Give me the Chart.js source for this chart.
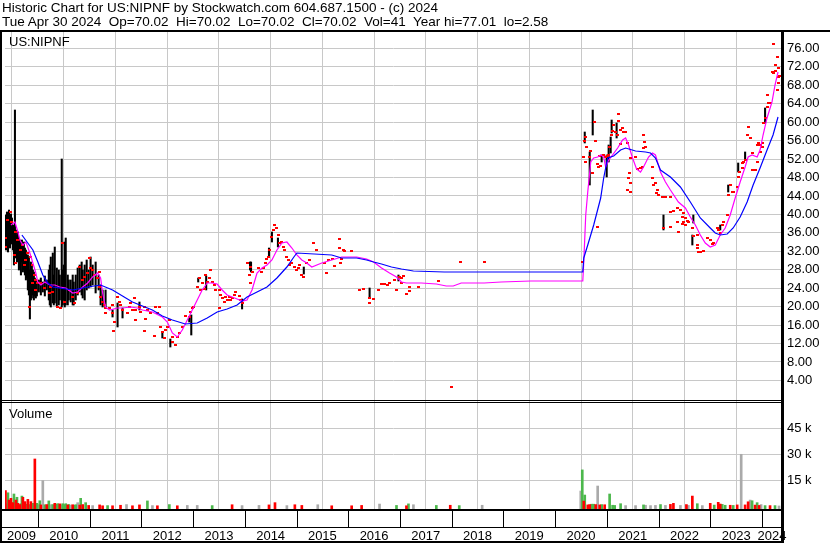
<!DOCTYPE html>
<html>
<head>
<meta charset="utf-8">
<script src="https://cdn.jsdelivr.net/npm/chart.js@4"></script>
<style>
  body { margin: 0; background: #fff; }
  #wrap { position: relative; width: 830px; height: 543px; overflow: hidden; font-family: "Liberation Sans", Arial, sans-serif; }
  #chart { position: absolute; left: 0; top: 0; }
  .txt { position: absolute; font-size: 13px; line-height: 14px; color: #000; white-space: pre; }
  .head { font-size: 13.5px; }
</style>
</head>
<body>
<div id="wrap">
  <canvas id="chart" width="830" height="543"></canvas>
  <div class="txt head" style="left:2px;top:1px">Historic Chart for US:NIPNF by Stockwatch.com 604.687.1500 - (c) 2024</div>
  <div class="txt head" style="left:2px;top:15px">Tue Apr 30 2024  Op=70.02  Hi=70.02  Lo=70.02  Cl=70.02  Vol=41  Year hi=77.01  lo=2.58</div>
  <div class="txt" style="left:9px;top:35px">US:NIPNF</div>
  <div class="txt" style="left:9px;top:407px">Volume</div>
</div>
<script>
// tick labels
const yearTicks = [2010, 2011, 2012, 2013, 2014, 2015, 2016, 2017, 2018, 2019, 2020, 2021, 2022, 2023, 2024];
const yearLabels = [2009, 2010, 2011, 2012, 2013, 2014, 2015, 2016, 2017, 2018, 2019, 2020, 2021, 2022, 2023, 2024];
const priceTicks = [4, 8, 12, 16, 20, 24, 28, 32, 36, 40, 44, 48, 52, 56, 60, 64, 68, 72, 76];
const volumeTicks = [15000, 30000, 45000];

// moving averages [year, price]
const longAverage = [
  [2009.692,35.53],[2009.904,32.28],[2010.000,29.68],[2010.096,26.86],[2010.193,25.13],[2010.289,24.26],
  [2010.674,23.61],[2010.963,24.26],[2011.213,24.69],[2011.444,23.61],[2011.829,21.01],[2012.214,19.27],
  [2012.407,17.97],[2012.600,17.10],[2012.850,16.24],[2013.081,16.45],[2013.274,17.54],[2013.466,18.84],
  [2013.659,19.49],[2013.852,20.36],[2014.044,22.09],[2014.237,23.17],[2014.429,24.26],[2014.622,26.21],
  [2014.814,28.59],[2014.949,30.76],[2015.007,31.63],[2015.681,31.20],[2015.873,30.55],[2016.162,30.55],
  [2016.355,30.11],[2016.490,29.68],[2016.643,29.24],[2016.836,28.59],[2017.029,28.16],[2017.260,27.73],
  [2017.857,27.51],[2020.534,27.51],[2020.553,30.55],[2020.630,33.36],[2020.745,37.70],[2020.880,43.55],
  [2020.938,47.89],[2021.015,52.23],[2021.131,52.66],[2021.265,53.96],[2021.362,54.39],[2021.554,53.74],
  [2021.747,53.53],[2021.843,53.31],[2021.939,52.23],[2022.036,49.62],[2022.228,48.11],[2022.421,45.94],
  [2022.613,42.69],[2022.806,39.22],[2022.998,37.05],[2023.095,35.97],[2023.191,35.53],[2023.326,35.75],
  [2023.441,37.05],[2023.576,39.43],[2023.711,42.69],[2023.827,46.37],[2023.961,50.06],[2024.096,53.96],
  [2024.212,57.21],[2024.308,61.11]
];
const shortAverage = [
  [2009.480,37.70],[2009.557,38.35],[2009.615,36.18],[2009.653,34.45],[2009.711,33.36],[2009.769,34.01],
  [2009.846,31.63],[2009.904,29.46],[2009.961,27.29],[2010.000,25.34],[2010.058,24.69],[2010.135,25.34],
  [2010.231,24.69],[2010.327,24.69],[2010.424,24.26],[2010.539,24.04],[2010.674,22.96],[2010.770,23.17],
  [2010.867,24.26],[2010.963,25.13],[2011.059,26.43],[2011.155,27.29],[2011.213,26.21],[2011.252,22.96],
  [2011.309,19.92],[2011.386,19.27],[2011.541,19.71],[2011.637,19.71],[2011.791,19.92],[2011.926,19.71],
  [2012.022,19.27],[2012.215,18.84],[2012.407,17.75],[2012.503,16.67],[2012.600,14.29],[2012.696,13.42],
  [2012.792,14.94],[2012.889,17.10],[2012.985,19.27],[2013.081,21.44],[2013.177,23.61],[2013.274,25.13],
  [2013.370,25.13],[2013.466,24.91],[2013.563,23.61],[2013.659,22.52],[2013.755,22.09],[2013.851,21.66],
  [2013.948,21.22],[2014.044,21.44],[2014.140,23.61],[2014.237,27.29],[2014.333,28.38],[2014.429,29.03],
  [2014.525,30.11],[2014.622,32.28],[2014.718,33.80],[2014.814,34.01],[2014.911,32.71],[2015.007,31.20],
  [2015.103,30.11],[2015.199,29.46],[2015.296,28.59],[2015.488,29.46],[2015.873,30.76],[2016.162,30.76],
  [2016.355,30.33],[2016.490,29.68],[2016.644,28.38],[2016.798,27.29],[2016.933,26.43],[2017.029,25.34],
  [2017.125,25.13],[2017.414,25.13],[2017.703,24.91],[2017.895,24.48],[2018.030,24.48],[2018.184,25.13],
  [2018.627,25.13],[2018.955,25.34],[2019.532,25.56],[2020.534,25.56],[2020.553,29.68],[2020.591,39.87],
  [2020.630,44.85],[2020.688,51.36],[2020.745,52.23],[2020.822,52.44],[2020.880,52.88],[2020.938,52.44],
  [2020.976,50.27],[2021.034,51.79],[2021.111,52.88],[2021.208,54.39],[2021.304,56.13],[2021.362,56.56],
  [2021.419,55.04],[2021.496,52.23],[2021.573,49.84],[2021.650,49.19],[2021.708,50.27],[2021.805,52.44],
  [2021.882,53.31],[2021.939,52.88],[2022.036,49.19],[2022.132,47.02],[2022.228,45.29],[2022.382,42.69],
  [2022.517,41.39],[2022.613,39.43],[2022.710,37.70],[2022.806,35.53],[2022.902,33.80],[2022.998,32.93],
  [2023.095,33.36],[2023.191,35.53],[2023.287,37.05],[2023.384,39.87],[2023.480,43.55],[2023.576,47.02],
  [2023.672,50.27],[2023.730,52.44],[2023.807,52.88],[2023.904,52.44],[2023.961,53.96],[2024.019,57.21],
  [2024.096,60.90],[2024.192,64.37],[2024.250,68.05],[2024.308,70.87]
];

// daily closes [year, price]
const closes = [
  [2009.365,32.93],[2009.384,34.88],[2009.422,38.78],[2009.480,40.52],[2009.499,38.35],[2009.557,31.20],
  [2009.576,36.18],[2009.576,29.46],[2009.615,34.45],[2009.673,32.28],[2009.711,33.36],[2009.750,29.03],
  [2009.769,30.11],[2009.807,31.63],[2009.846,19.92],[2009.865,30.76],[2009.904,29.03],[2009.904,25.13],
  [2009.942,26.86],[2009.961,25.78],[2009.961,23.61],[2010.000,25.13],[2010.058,25.13],[2010.135,24.04],
  [2010.231,22.96],[2010.250,24.26],[2010.289,23.17],[2010.385,19.92],[2010.443,19.71],[2010.481,33.80],
  [2010.520,21.01],[2010.616,23.61],[2010.674,22.09],[2010.713,20.79],[2010.770,22.96],[2010.809,28.59],
  [2010.867,25.78],[2010.905,26.43],[2010.963,27.29],[2011.001,30.55],[2011.020,28.38],[2011.059,27.94],
  [2011.098,26.86],[2011.155,26.21],[2011.194,27.51],[2011.194,24.26],[2011.213,22.09],[2011.252,21.01],
  [2011.290,20.36],[2011.309,19.71],[2011.309,18.62],[2011.386,19.71],[2011.444,20.36],[2011.444,18.62],
  [2011.463,14.72],[2011.483,16.67],[2011.541,22.09],[2011.579,21.01],[2011.598,20.36],[2011.637,19.27],
  [2011.733,18.62],[2011.772,19.92],[2011.791,20.79],[2011.829,19.27],[2011.868,21.87],[2011.887,19.27],
  [2011.887,17.10],[2011.964,19.92],[2011.983,18.84],[2012.060,19.92],[2012.060,14.72],[2012.080,17.32],
  [2012.118,19.27],[2012.176,18.62],[2012.253,13.64],[2012.272,19.92],[2012.311,18.62],[2012.349,19.92],
  [2012.369,15.59],[2012.407,14.50],[2012.446,13.20],[2012.465,14.94],[2012.503,15.59],[2012.542,17.10],
  [2012.600,12.33],[2012.600,13.42],[2012.657,11.68],[2012.696,13.42],[2012.735,14.29],[2012.792,15.59],
  [2012.850,17.97],[2012.927,17.75],[2012.946,18.84],[2012.985,19.71],[2013.004,19.92],[2013.081,24.26],
  [2013.120,26.21],[2013.139,23.61],[2013.177,25.13],[2013.216,23.82],[2013.235,26.86],[2013.274,25.34],
  [2013.312,26.21],[2013.331,27.94],[2013.370,25.34],[2013.408,24.69],[2013.428,23.61],[2013.505,23.61],
  [2013.505,19.71],[2013.524,22.52],[2013.563,21.87],[2013.601,21.01],[2013.620,22.09],[2013.659,21.44],
  [2013.697,22.09],[2013.716,21.44],[2013.755,21.87],[2013.794,22.52],[2013.813,23.17],[2013.890,22.31],
  [2013.909,21.44],[2013.948,20.79],[2014.044,29.46],[2014.082,26.86],[2014.102,28.59],[2014.102,25.13],
  [2014.140,27.51],[2014.275,28.38],[2014.333,27.51],[2014.371,28.38],[2014.391,29.46],[2014.429,30.33],
  [2014.468,30.76],[2014.487,32.28],[2014.525,35.10],[2014.564,36.62],[2014.583,37.70],[2014.622,37.05],
  [2014.660,35.53],[2014.679,33.80],[2014.718,34.01],[2014.756,32.93],[2014.775,32.28],[2014.814,30.76],
  [2014.853,30.11],[2014.872,29.03],[2014.911,29.46],[2014.968,28.59],[2015.007,27.94],[2015.045,28.38],
  [2015.065,29.03],[2015.103,26.86],[2015.141,26.43],[2015.199,29.46],[2015.257,30.11],[2015.334,33.80],
  [2015.392,32.28],[2015.546,29.46],[2015.585,27.29],[2015.623,30.11],[2015.700,30.33],[2015.739,28.81],
  [2015.835,34.66],[2015.835,32.71],[2015.854,29.46],[2015.873,30.33],[2015.912,32.28],[2015.931,32.06],
  [2016.066,32.06],[2016.220,23.61],[2016.297,23.82],[2016.413,21.87],[2016.413,20.79],[2016.490,21.66],
  [2016.586,23.61],[2016.644,24.91],[2016.702,24.91],[2016.759,24.69],[2016.798,25.13],[2016.894,25.78],
  [2016.933,23.61],[2016.990,26.43],[2017.029,26.21],[2017.029,25.13],[2017.067,26.64],[2017.125,22.74],
  [2017.183,24.26],[2017.183,23.39],[2017.356,24.26],[2017.741,25.56],[2017.991,2.58],[2018.165,29.68],
  [2018.627,29.68],[2020.534,29.68],[2020.553,52.44],[2020.572,55.91],[2020.591,51.36],[2020.591,56.78],
  [2020.611,54.61],[2020.668,52.44],[2020.688,53.74],[2020.726,48.97],[2020.765,60.03],[2020.784,55.91],
  [2020.822,50.92],[2020.822,37.27],[2020.842,50.27],[2020.861,52.66],[2020.880,50.49],[2020.938,52.88],
  [2020.976,52.44],[2021.015,52.66],[2021.034,52.88],[2021.053,54.61],[2021.092,57.21],[2021.111,58.08],
  [2021.131,59.38],[2021.169,57.86],[2021.208,57.21],[2021.227,61.76],[2021.227,60.25],[2021.265,58.30],
  [2021.265,55.26],[2021.304,58.73],[2021.323,57.86],[2021.362,57.86],[2021.400,55.48],[2021.400,45.29],
  [2021.419,47.89],[2021.438,48.97],[2021.458,52.23],[2021.458,46.81],[2021.458,44.85],[2021.554,52.44],
  [2021.593,49.84],[2021.650,50.06],[2021.689,50.27],[2021.708,54.39],[2021.708,57.21],[2021.727,55.69],
  [2021.747,54.61],[2021.882,50.27],[2021.882,47.89],[2021.901,46.37],[2021.939,46.81],[2021.959,44.64],
  [2021.978,45.29],[2021.997,44.20],[2022.074,43.77],[2022.094,37.05],[2022.132,43.77],[2022.228,43.77],
  [2022.228,40.52],[2022.228,37.27],[2022.286,40.73],[2022.363,41.39],[2022.363,38.35],[2022.382,36.18],
  [2022.421,40.95],[2022.459,37.92],[2022.459,39.43],[2022.479,40.30],[2022.479,38.35],[2022.517,39.22],
  [2022.517,37.70],[2022.556,38.57],[2022.575,38.35],[2022.652,37.05],[2022.671,35.32],[2022.748,35.53],
  [2022.748,33.36],[2022.748,32.71],[2022.768,31.85],[2022.806,31.85],[2022.864,32.06],[2022.941,34.88],
  [2022.998,34.45],[2023.037,33.58],[2023.056,33.80],[2023.133,37.05],[2023.152,36.62],[2023.191,35.97],
  [2023.230,37.70],[2023.249,38.35],[2023.326,39.87],[2023.345,44.20],[2023.384,46.37],[2023.422,44.85],
  [2023.442,44.85],[2023.519,45.94],[2023.538,48.11],[2023.557,49.19],[2023.615,50.06],[2023.615,51.14],
  [2023.634,51.36],[2023.672,51.79],[2023.711,57.21],[2023.730,58.95],[2023.769,56.56],[2023.807,53.31],
  [2023.807,49.62],[2023.827,49.62],[2023.865,49.62],[2023.904,51.36],[2023.904,55.04],[2023.923,55.48],
  [2023.961,55.04],[2023.961,53.53],[2024.000,55.48],[2024.000,54.61],[2024.019,59.81],[2024.058,60.90],
  [2024.096,63.28],[2024.096,65.88],[2024.115,64.15],[2024.154,64.15],[2024.192,70.87],[2024.212,70.65],
  [2024.212,77.01],[2024.250,72.39],[2024.250,71.09],[2024.289,74.12],[2024.289,66.97],[2024.308,71.74],
  [2024.308,69.79],[2024.308,68.49],[2024.330,70.02]
];

// daily ranges [year, low, high]
const ranges = [
  [2009.384,32.28,39.87],[2009.403,34.45,40.52],[2009.422,31.85,39.22],[2009.442,33.36,40.95],
  [2009.461,32.71,38.78],[2009.480,34.88,40.09],[2009.499,33.58,39.22],[2009.519,32.28,37.70],
  [2009.538,29.03,37.05],[2009.557,33.36,62.63],[2009.576,30.55,36.62],[2009.596,29.68,35.53],
  [2009.615,31.20,36.18],[2009.634,27.94,34.88],[2009.653,28.38,34.45],[2009.673,26.86,33.36],
  [2009.692,29.68,34.45],[2009.711,27.51,33.36],[2009.730,27.94,34.01],[2009.750,26.86,32.71],
  [2009.769,25.78,32.28],[2009.788,26.21,31.20],[2009.807,23.61,31.20],[2009.827,22.52,30.55],
  [2009.846,17.32,27.94],[2009.865,21.44,29.68],[2009.884,21.87,29.03],[2009.904,22.52,27.94],
  [2009.923,21.44,27.51],[2009.942,22.31,26.21],[2009.961,21.87,25.78],[2009.981,22.31,25.34],
  [2010.019,23.17,25.78],[2010.058,22.52,26.21],[2010.096,23.17,25.34],[2010.135,22.31,26.64],
  [2010.173,23.61,25.78],[2010.212,21.44,27.94],[2010.231,20.36,29.03],[2010.250,19.92,30.76],
  [2010.289,20.79,31.63],[2010.308,20.36,26.86],[2010.327,20.79,32.93],[2010.366,20.14,28.38],
  [2010.404,20.36,27.94],[2010.424,21.44,26.86],[2010.462,19.92,52.01],[2010.481,20.36,27.94],
  [2010.501,21.44,29.03],[2010.520,19.92,34.01],[2010.539,20.36,34.88],[2010.578,20.36,26.86],
  [2010.597,21.44,25.78],[2010.635,21.01,25.78],[2010.674,20.36,26.86],[2010.693,20.36,25.34],
  [2010.732,21.44,26.86],[2010.770,22.52,28.38],[2010.809,23.17,29.03],[2010.847,22.52,29.68],
  [2010.867,21.87,27.94],[2010.905,21.44,29.03],[2010.944,23.61,30.11],[2010.982,24.04,27.94],
  [2011.020,24.26,30.76],[2011.059,24.69,29.03],[2011.117,22.96,29.68],[2011.175,23.61,26.86],
  [2011.213,20.36,24.69],[2011.252,19.92,23.61],[2011.309,19.92,23.61],[2011.444,17.75,19.27],
  [2011.541,15.59,20.79],[2011.637,17.54,19.71],[2011.964,19.27,21.01],[2012.407,13.20,14.50],
  [2012.561,11.25,12.98],[2012.927,16.67,17.75],[2012.966,13.85,18.19],[2013.100,25.34,26.21],
  [2013.254,23.61,26.64],[2013.948,19.49,21.66],[2014.102,27.94,29.68],[2014.121,27.51,29.68],
  [2014.468,30.76,32.71],[2014.525,34.01,36.18],[2014.641,32.93,34.88],[2015.141,27.07,28.59],
  [2016.413,21.87,24.04],[2016.971,25.56,26.86],[2020.572,55.48,57.86],[2020.668,46.37,53.53],
  [2020.726,57.21,62.63],[2020.899,51.36,52.88],[2020.996,48.11,52.88],[2021.034,51.36,55.04],
  [2021.073,53.31,56.78],[2021.092,57.64,60.46],[2021.188,56.56,59.81],[2022.094,36.62,39.87],
  [2022.652,33.36,35.53],[2022.671,38.13,39.87],[2023.191,36.62,37.70],[2023.345,44.85,46.37],
  [2023.538,49.19,51.14],[2023.672,51.79,53.53],[2024.058,59.81,63.07]
];

// daily volume [year, shares, move]
const volume = [
  [2009.374,9000,'down'],[2009.393,1500,'flat'],[2009.422,7800,'up'],[2009.442,3600,'down'],
  [2009.461,1200,'flat'],[2009.480,4600,'down'],[2009.499,2000,'up'],[2009.519,2100,'down'],
  [2009.538,7100,'up'],[2009.557,1000,'flat'],[2009.576,3600,'down'],[2009.596,5200,'up'],
  [2009.615,1700,'down'],[2009.634,900,'flat'],[2009.653,1000,'down'],[2009.673,1500,'up'],
  [2009.692,5900,'up'],[2009.711,5200,'down'],[2009.730,800,'flat'],[2009.750,2700,'down'],
  [2009.769,1200,'up'],[2009.807,4000,'down'],[2009.827,1000,'up'],[2009.865,2700,'down'],
  [2009.904,1700,'up'],[2009.923,1000,'flat'],[2009.942,27300,'down'],[2009.981,1700,'up'],
  [2010.019,1000,'flat'],[2010.038,3200,'up'],[2010.058,800,'down'],[2010.096,14800,'flat'],
  [2010.135,900,'up'],[2010.173,1000,'down'],[2010.212,3100,'up'],[2010.250,900,'flat'],
  [2010.289,1000,'up'],[2010.327,1700,'down'],[2010.366,1200,'up'],[2010.385,1500,'up'],
  [2010.424,1400,'down'],[2010.443,800,'flat'],[2010.481,1500,'up'],[2010.520,1000,'up'],
  [2010.539,1500,'up'],[2010.578,800,'down'],[2010.597,1000,'up'],[2010.635,700,'flat'],
  [2010.674,900,'down'],[2010.713,600,'up'],[2010.732,900,'up'],[2010.770,2100,'flat'],
  [2010.809,700,'down'],[2010.828,4600,'up'],[2010.867,1000,'down'],[2010.924,2100,'up'],
  [2010.982,500,'down'],[2011.059,400,'flat'],[2011.194,800,'down'],[2011.252,300,'down'],
  [2011.348,400,'up'],[2011.444,300,'down'],[2011.598,600,'down'],[2011.714,1000,'flat'],
  [2011.829,300,'down'],[2011.964,800,'down'],[2012.118,3100,'up'],[2012.215,400,'flat'],
  [2012.311,300,'down'],[2012.542,1000,'up'],[2012.696,300,'down'],[2012.889,500,'flat'],
  [2013.081,500,'flat'],[2013.370,400,'up'],[2013.755,900,'down'],[2013.948,400,'flat'],
  [2014.275,500,'flat'],[2014.468,800,'down'],[2014.584,2100,'down'],[2014.814,400,'flat'],
  [2014.968,900,'down'],[2015.103,500,'down'],[2015.411,900,'flat'],[2015.681,300,'down'],
  [2016.066,300,'down'],[2016.259,500,'down'],[2016.605,1300,'flat'],[2016.933,500,'up'],
  [2017.125,300,'down'],[2017.164,1400,'up'],[2017.260,900,'flat'],[2017.703,500,'up'],
  [2017.972,600,'down'],[2018.146,400,'up'],[2018.589,600,'flat'],[2020.495,8800,'flat'],
  [2020.524,21000,'up'],[2020.553,3000,'down'],[2020.572,6500,'up'],[2020.630,800,'down'],
  [2020.668,1000,'down'],[2020.707,1200,'up'],[2020.745,1200,'up'],[2020.784,1000,'down'],
  [2020.822,11700,'flat'],[2020.861,800,'down'],[2020.899,1000,'up'],[2020.957,900,'down'],
  [2021.053,7100,'up'],[2021.111,600,'up'],[2021.150,500,'up'],[2021.265,1500,'up'],
  [2021.362,400,'flat'],[2021.554,400,'flat'],[2021.708,800,'up'],[2021.747,600,'flat'],
  [2021.843,400,'flat'],[2021.939,500,'flat'],[2022.036,1000,'up'],[2022.132,500,'flat'],
  [2022.228,1100,'down'],[2022.286,1700,'down'],[2022.421,500,'flat'],[2022.537,1000,'down'],
  [2022.575,500,'flat'],[2022.652,5900,'down'],[2022.748,1500,'up'],[2022.845,400,'flat'],
  [2022.998,1700,'down'],[2023.075,700,'up'],[2023.152,2300,'down'],[2023.191,1300,'down'],
  [2023.230,1100,'up'],[2023.287,600,'up'],[2023.384,600,'down'],[2023.442,500,'up'],
  [2023.519,800,'down'],[2023.596,30000,'flat'],[2023.672,800,'down'],[2023.730,2600,'down'],
  [2023.769,3600,'flat'],[2023.807,3200,'up'],[2023.865,700,'down'],[2023.904,2100,'up'],
  [2023.942,500,'down'],[2023.981,1000,'flat'],[2024.058,400,'up'],[2024.154,400,'down'],
  [2024.250,400,'up'],[2024.327,200,'flat']
];

const FONT = '"Liberation Sans", Arial, sans-serif';
Chart.defaults.font.family = FONT;
Chart.defaults.font.size = 13;
Chart.defaults.color = '#000';

const moveColors = { up: '#4cb84c', down: '#ff0000', flat: '#aaaaaa' };

// little 3x2 red tick used for the closes
const dot = document.createElement('canvas');
dot.width = 3; dot.height = 2;
const dctx = dot.getContext('2d');
dctx.fillStyle = '#ff0000';
dctx.fillRect(0, 0, 3, 2);

function volumeSet(move) {
  const rows = volume.filter(r => r[2] === move);
  return {
    type: 'bar',
    yAxisID: 'v',
    data: rows.map(r => ({ x: r[0], y: r[1] })),
    backgroundColor: moveColors[move],
    barThickness: 2,
    grouped: false,
    base: -1560
  };
}

// frame lines, panel separators and the year band
const framePlugin = {
  id: 'frame',
  afterDraw(chart) {
    const { ctx, chartArea: a, scales } = chart;
    const x = scales.x, y = scales.y;
    ctx.save();
    ctx.fillStyle = '#000';
    ctx.fillRect(0, a.top - 2, chart.width, 2);
    ctx.fillRect(0, a.top - 2, 2, chart.height);
    ctx.fillRect(a.right - 1, a.top - 2, 3, chart.height);
    const sep = Math.round(y.bottom);
    ctx.fillRect(0, sep - 1, a.right, 1);
    ctx.fillRect(0, sep + 1, a.right, 1);
    ctx.fillRect(0, a.bottom, a.right, 2);
    ctx.fillRect(0, a.bottom + 18, a.right, 1);
    ctx.fillRect(0, chart.height - 2, a.right, 2);
    yearTicks.forEach(t => {
      const px = Math.round(x.getPixelForValue(t));
      ctx.fillRect(px, a.bottom, 1, 18);
    });
    ctx.font = '13px ' + FONT;
    ctx.textAlign = 'center';
    ctx.textBaseline = 'alphabetic';
    yearLabels.forEach(yr => {
      const l = Math.max(x.getPixelForValue(yr), a.left);
      const r = Math.min(x.getPixelForValue(yr + 1), a.right);
      ctx.fillText(String(yr), (l + r) / 2, chart.height - 3);
    });
    ctx.restore();
  }
};

new Chart(document.getElementById('chart'), {
  type: 'scatter',
  data: {
    datasets: [
      { type: 'line', data: longAverage.map(p => ({ x: p[0], y: p[1] })), borderColor: '#0000ff', borderWidth: 1.2, pointRadius: 0, yAxisID: 'y' },
      { type: 'line', data: shortAverage.map(p => ({ x: p[0], y: p[1] })), borderColor: '#ff00ff', borderWidth: 1.2, pointRadius: 0, yAxisID: 'y' },
      { type: 'scatter', data: closes.map(p => ({ x: p[0], y: p[1] })), pointStyle: dot, pointRadius: 2, yAxisID: 'y' },
      { type: 'bar', data: ranges.map(r => ({ x: r[0], y: [r[1], r[2]] })), backgroundColor: '#000', barThickness: 1.4, grouped: false, yAxisID: 'y' },
      volumeSet('down'),
      volumeSet('up'),
      volumeSet('flat')
    ]
  },
  options: {
    responsive: false,
    animation: false,
    devicePixelRatio: 1,
    layout: { padding: { top: 32, left: 2, right: 0, bottom: 0 } },
    plugins: { legend: { display: false }, tooltip: { enabled: false } },
    scales: {
      x: {
        type: 'linear', min: 2009.365, max: 2024.385, offset: false,
        afterBuildTicks: s => { s.ticks = yearTicks.map(v => ({ value: v })); },
        afterFit: s => { s.height = 34; s.paddingLeft = 0; s.paddingRight = 0; },
        ticks: { display: false },
        grid: { color: '#c8c8c8', drawTicks: false },
        border: { display: false }
      },
      y: {
        type: 'linear', position: 'right', stack: 'panes', stackWeight: 369,
        min: -0.456, max: 79.54,
        afterBuildTicks: s => { s.ticks = priceTicks.map(v => ({ value: v })); },
        afterFit: s => { s.width = 48; s.paddingTop = 0; s.paddingBottom = 0; },
        ticks: { autoSkip: false, padding: 5, callback: v => v.toFixed(2) },
        grid: { color: '#c8c8c8', drawTicks: false },
        border: { display: false }
      },
      v: {
        type: 'linear', position: 'right', stack: 'panes', stackWeight: 108,
        min: -1560, max: 60750,
        afterBuildTicks: s => { s.ticks = volumeTicks.map(v => ({ value: v })); },
        afterFit: s => { s.width = 48; s.paddingTop = 0; s.paddingBottom = 0; },
        ticks: { autoSkip: false, padding: 5, callback: v => (v / 1000) + ' k' },
        grid: { color: '#c8c8c8', drawTicks: false },
        border: { display: false }
      }
    }
  },
  plugins: [framePlugin]
});
</script>
</body>
</html>
